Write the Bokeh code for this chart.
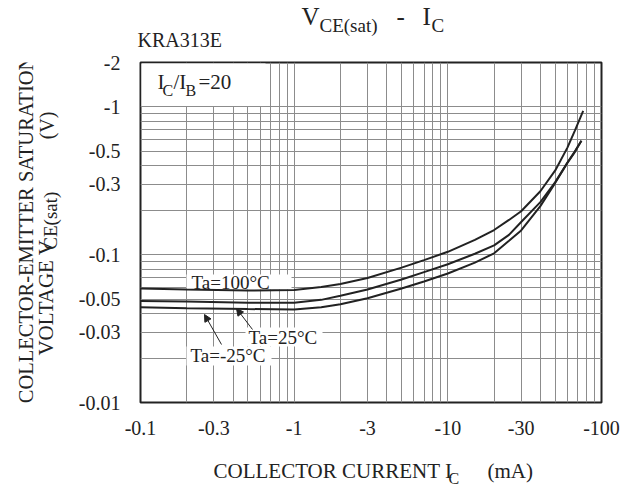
import numpy as np
from bokeh.plotting import figure
from bokeh.layouts import column, row
from bokeh.models import FixedTicker, CustomJSTickFormatter, Label, Arrow, NormalHead, Range1d
from bokeh.embed import file_html
from bokeh.resources import INLINE

# ---- data (collector current in mA, V_CE(sat) in V) ----
ic_100 = [-0.1, -0.2, -0.5, -1.0, -1.5, -2.0, -3.0, -5.0, -7.0, -10, -15, -20, -25, -30, -40, -50, -60, -67, -76]
vce_100 = [-0.0591, -0.0582, -0.0573, -0.0578, -0.0605, -0.0634, -0.0696, -0.0818, -0.0919, -0.1047,
           -0.126, -0.147, -0.172, -0.197, -0.269, -0.372, -0.531, -0.690, -0.94]
ic_25 = [-0.1, -0.2, -0.5, -1.0, -1.5, -2.0, -3.0, -5.0, -7.0, -10, -15, -20, -25, -30, -40, -50, -60, -67, -74]
vce_25 = [-0.0486, -0.0482, -0.0474, -0.0473, -0.0495, -0.0527, -0.0582, -0.0680, -0.0763, -0.0863,
          -0.1016, -0.1158, -0.1362, -0.1666, -0.2269, -0.310, -0.421, -0.499, -0.591]
ic_m25 = [-0.1, -0.2, -0.5, -1.0, -1.5, -2.0, -3.0, -5.0, -7.0, -10, -15, -20, -25, -30, -40, -50, -60, -67, -74]
vce_m25 = [-0.0441, -0.0435, -0.0429, -0.0426, -0.0441, -0.0462, -0.0507, -0.0591, -0.0659, -0.0746,
           -0.0884, -0.1023, -0.1242, -0.146, -0.2133, -0.3066, -0.4176, -0.495, -0.591]

x_ticks = [-0.1, -0.3, -1, -3, -10, -30, -100]
y_ticks = [-0.01, -0.03, -0.05, -0.1, -0.3, -0.5, -1, -2]
x_range = (-0.1, -100)
y_range = (-0.01, -2)

FONT = "Liberation Serif"
INK = "#222222"

# ---- layout (picture pixels) ----
W, H = 625, 488
FL, FR, FT, FB = 140, 601, 62, 402      # plot frame
TOP_H = 51                              # title strip
LEFT_W = 64                             # y-title strip
MAIN_B = 440                            # bottom of main figure
MID = 0.34                              # baseline -> text middle, in em
XD = (FR - FL) / np.log10(abs(x_range[1]) / abs(x_range[0]))
YD = (FB - FT) / np.log10(abs(y_range[1]) / abs(y_range[0]))


def at(px, py):
    """picture pixel -> data position (annotations inside the frame)"""
    return (abs(x_range[0]) * 10 ** ((px - FL) / XD),
            abs(y_range[0]) * 10 ** ((FB - py) / YD))


p = figure(width=W - LEFT_W, height=MAIN_B - TOP_H, x_axis_type="log", y_axis_type="log",
           x_range=Range1d(abs(x_range[0]), abs(x_range[1])),
           y_range=Range1d(abs(y_range[0]), abs(y_range[1])),
           output_backend="svg", toolbar_location=None,
           min_border_left=FL - LEFT_W, min_border_right=W - FR,
           min_border_top=FT - TOP_H, min_border_bottom=MAIN_B - FB)
p.background_fill_color = "white"
p.border_fill_color = "white"
p.outline_line_color = INK
p.outline_line_width = 2

# grid at 1..9 x each decade
gx = [k * 10.0 ** e for e in (-1, 0, 1) for k in range(1, 10)] + [100.0]
gy = [k * 10.0 ** e for e in (-2, -1, 0) for k in range(1, 10)]
p.xgrid.ticker = FixedTicker(ticks=gx)
p.ygrid.ticker = FixedTicker(ticks=gy)
for g in (p.xgrid, p.ygrid):
    g.grid_line_color = "#8c8c8c"
    g.grid_line_width = 1
    g.grid_line_alpha = 1.0

fmt = CustomJSTickFormatter(code="return '-' + tick.toString();")
p.xaxis.ticker = FixedTicker(ticks=[abs(v) for v in x_ticks])
p.yaxis.ticker = FixedTicker(ticks=[abs(v) for v in y_ticks])
for ax in (p.xaxis, p.yaxis):
    ax.formatter = fmt
    ax.axis_line_color = None
    ax.major_tick_line_color = None
    ax.minor_tick_line_color = None
    ax.major_label_text_font = FONT
    ax.major_label_text_font_size = "20px"
    ax.major_label_text_color = INK
p.xaxis.major_label_standoff = 12
p.yaxis.major_label_standoff = 14


# white boxes behind in-plot texts (hide grid lines)
def box(x0, y0, x1, y1):
    (l, t), (r, b) = at(x0, y0), at(x1, y1)
    p.quad(left=l, right=r, top=t, bottom=b, fill_color="white", line_color=None)


box(141, 63, 265, 105.5)
box(186, 274, 291, 289)
box(245, 327, 322, 346)
box(186, 346, 271, 365)

# curves
for xs, ys in ((ic_100, vce_100), (ic_25, vce_25), (ic_m25, vce_m25)):
    p.line(np.abs(xs), np.abs(ys), line_color=INK, line_width=2)


def ftxt(s, px, py, size):
    """text inside the frame, baseline starting at picture pixel (px, py)"""
    p.add_layout(Label(x=px - FL, y=FB - (py - MID * size), x_units="screen", y_units="screen",
                       text=s, text_font=FONT, text_font_size=f"{size}px",
                       text_color=INK, text_baseline="middle", text_align="left"))


# ratio note
ftxt("I", 157, 89, 21)
ftxt("C", 162, 95, 16)
ftxt("/I", 173, 89, 21)
ftxt("B", 185, 95, 16)
ftxt("=20", 198, 89, 21)
# curve labels
ftxt("Ta=100°C", 191, 288, 19)
ftxt("Ta=25°C", 248, 343, 19)
ftxt("Ta=-25°C", 190, 361, 19)
for (x0, y0, x1, y1) in ((252, 329, 236, 308), (221, 344, 204, 314)):
    s0, s1 = at(x0, y0), at(x1, y1)
    p.add_layout(Arrow(x_start=s0[0], y_start=s0[1], x_end=s1[0], y_end=s1[1],
                       line_color=INK, line_width=1,
                       end=NormalHead(size=7, fill_color=INK, line_color=INK)))


# ---- strips around the plot for the titles (data coords = picture pixels) ----
def strip(x0, x1, y0, y1):
    f = figure(width=x1 - x0, height=y1 - y0, x_range=Range1d(x0, x1), y_range=Range1d(y1, y0),
               x_axis_type=None, y_axis_type=None, min_border=0, toolbar_location=None,
               output_backend="svg")
    f.outline_line_color = None
    f.background_fill_color = "white"
    f.border_fill_color = "white"
    return f


top = strip(0, W, 0, TOP_H)
left = strip(0, LEFT_W, TOP_H, MAIN_B)
bottom = strip(0, W, MAIN_B, H)


def stxt(f, s, px, py, size):
    """horizontal text, baseline starting at picture pixel (px, py)"""
    f.add_layout(Label(x=px, y=py - MID * size, text=s, text_font=FONT,
                       text_font_size=f"{size}px", text_color=INK,
                       text_baseline="middle", text_align="left"))


def vtxt(f, s, bx, cy, size):
    """text rotated 90 deg, baseline at picture x = bx, centred near picture y = cy"""
    f.add_layout(Label(x=bx - MID * size, y=cy, text=s, text_font=FONT,
                       text_font_size=f"{size}px", text_color=INK,
                       text_baseline="middle", text_align="center", angle=np.pi / 2))


# title
stxt(top, "V", 301, 24, 25)
stxt(top, "CE(sat)", 319, 31, 19)
stxt(top, "-", 396, 24, 25)
stxt(top, "I", 422, 24, 25)
stxt(top, "C", 431, 31, 19)
stxt(top, "KRA313E", 137, 46.5, 20)
# x-axis title
stxt(bottom, "COLLECTOR CURRENT I", 213, 478, 21)
stxt(bottom, "C", 448, 483, 16)
stxt(bottom, "(mA)", 487, 478, 21)
# y-axis title (rotated)
vtxt(left, "COLLECTOR-EMITTER SATURATION", 32, 242, 20.5)
vtxt(left, "VOLTAGE V", 53, 320, 21)
vtxt(left, "CE(sat)", 56, 232, 19)
vtxt(left, "(V)", 53, 123, 20)

layout = column(top, row(left, p), bottom)
open("out.html", "w").write(file_html(layout, INLINE))
